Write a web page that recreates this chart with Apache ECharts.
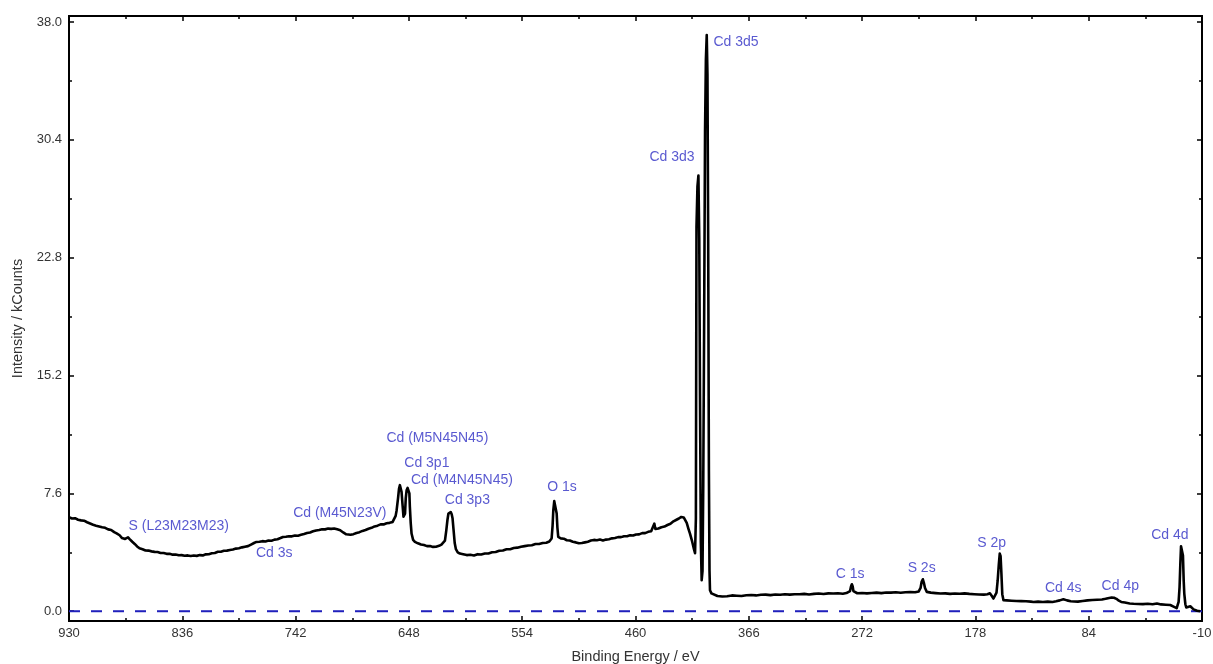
<!DOCTYPE html>
<html>
<head>
<meta charset="utf-8">
<title>XPS survey spectrum</title>
<script src="https://cdn.jsdelivr.net/npm/echarts@6/dist/echarts.min.js"></script>
<style>
  html, body { margin: 0; padding: 0; background: #ffffff; }
  #chart { width: 1213px; height: 664px; }
</style>
</head>
<body>
<div id="chart"></div>
<script>
// Survey spectrum, [binding energy (eV), intensity (kCounts)] pairs, split by region.
const bgHighEnergy = [
  [930, 6.06], [927.5, 5.98], [925, 6.0], [922.5, 5.9], [920, 5.86], [917.5, 5.84], [915, 5.74],
  [912.5, 5.66], [910, 5.58], [907.5, 5.52], [905, 5.47], [902.5, 5.42], [900, 5.38], [897.5, 5.28],
  [895, 5.24], [892.5, 5.1], [890.5, 5.02], [888, 4.9], [886, 4.72], [885, 4.62], [883.5, 4.66],
  [882, 4.74], [881, 4.77], [879.5, 4.64], [877.5, 4.48], [875.5, 4.34], [873.5, 4.18], [871.5, 4.06],
  [869, 4.0], [866.5, 3.92], [864, 3.91], [861.5, 3.86], [859, 3.83], [856.5, 3.82], [854, 3.76],
  [851.5, 3.76], [849, 3.7], [846.5, 3.7], [844, 3.65], [841.5, 3.66], [839, 3.61], [836.5, 3.62],
  [834, 3.58], [831.5, 3.6], [829, 3.56], [826.5, 3.59], [824, 3.57], [821.5, 3.62], [819, 3.6],
  [816.5, 3.67], [814, 3.68], [811.5, 3.74], [809, 3.76], [806.5, 3.84], [804, 3.84], [801.5, 3.9],
  [799, 3.91], [796.5, 3.95], [794, 3.98], [791.5, 4.04], [789, 4.06], [786.5, 4.12], [784, 4.16],
  [781.5, 4.2], [779, 4.3], [776.5, 4.4], [774.5, 4.47], [772, 4.48], [769.5, 4.52], [767, 4.5],
  [764.5, 4.56], [762, 4.55], [759.5, 4.62], [757, 4.64], [754.5, 4.72], [752.5, 4.79], [750, 4.8],
  [747.5, 4.84], [745, 4.83], [742.5, 4.88], [740, 4.87], [737.5, 4.93], [735, 4.98], [732.5, 5.05],
  [730, 5.08], [727.5, 5.16], [725, 5.21], [722.5, 5.24], [720, 5.29], [717.5, 5.28], [715, 5.33],
  [712.5, 5.31], [710, 5.34], [707.5, 5.28], [705, 5.22], [702.5, 5.08], [700, 4.96], [698.5, 4.9],
  [696.5, 4.93], [694, 4.97], [691.5, 5.05], [689, 5.1], [686.5, 5.18], [684, 5.24], [681.5, 5.32],
  [679, 5.38], [676.5, 5.47], [674, 5.52], [671.5, 5.6], [669, 5.6], [666.5, 5.67], [664, 5.7],
  [661.5, 5.76], [660, 5.8]
];

// Cd MNN Auger lines, Cd 3p doublet, O 1s and the slope up to Cd 3d
const augerAnd3p = [
  [659, 6.15], [658.2, 6.5], [657, 7.3], [656.2, 7.9], [655.5, 8.13], [654.8, 8.05], [654.1, 7.7],
  [653.2, 6.8], [652.5, 6.1], [651.9, 5.98], [651.2, 6.3], [650.6, 7.3], [649.9, 7.8], [649.1, 7.95],
  [648.3, 7.92], [647.6, 7.6], [647.2, 6.73], [646.5, 5.7], [645.8, 5.01], [644.5, 4.6], [643, 4.47],
  [640.5, 4.38], [638, 4.3], [635.5, 4.27], [633, 4.2], [630.5, 4.2], [628, 4.15], [625.5, 4.16],
  [623, 4.22], [621, 4.3], [619.5, 4.4], [618.1, 4.55], [617, 5.2], [616, 5.9], [615.2, 6.3],
  [614.2, 6.41], [613.3, 6.4], [612.5, 6.25], [611.8, 6.0], [611, 5.3], [610, 4.4], [609, 4.0],
  [607.5, 3.8], [605.7, 3.72], [603, 3.68], [600, 3.62], [597, 3.64], [594, 3.6], [591, 3.68],
  [588, 3.66], [585, 3.72], [582, 3.72], [579, 3.8], [576, 3.82], [573, 3.9], [570, 3.92],
  [567, 4.0], [564, 4.0], [561, 4.08], [558, 4.1], [555, 4.16], [552, 4.2], [549, 4.24],
  [546, 4.26], [543, 4.34], [540, 4.34], [537, 4.4], [534, 4.42], [531.5, 4.5], [529.6, 4.69],
  [528.8, 5.5], [528.2, 6.5], [527.4, 7.1], [526.8, 7.16], [526.1, 7.0], [525.4, 6.3], [524.8, 5.4],
  [524.1, 4.79], [522, 4.7], [519.5, 4.68], [517, 4.58], [514.5, 4.56], [512, 4.48], [509.5, 4.44],
  [507, 4.38], [504.5, 4.4], [502, 4.44], [499.5, 4.48], [497, 4.56], [494.5, 4.6], [492, 4.58],
  [489.5, 4.62], [487, 4.56], [484.5, 4.62], [482, 4.64], [479.5, 4.7], [477, 4.72], [474.5, 4.78],
  [472, 4.78], [469.5, 4.84], [467, 4.84], [464.5, 4.9], [462, 4.88], [459.5, 4.95], [457, 4.96],
  [454.5, 5.04], [452, 5.04], [449.5, 5.12], [447, 5.16], [445.5, 5.23], [444.4, 5.65], [443.5, 5.3],
  [441, 5.34], [438.5, 5.42], [436, 5.46], [433.5, 5.56], [431, 5.64], [428.5, 5.8], [426, 5.9],
  [424, 5.98], [422, 6.08], [420, 6.05], [418.9, 6.0], [417.5, 5.7], [416, 5.3], [414.8, 5.0],
  [413, 4.5], [411.5, 4.0], [410.6, 3.74]
];

// Cd 3d3/2 and Cd 3d5/2 main lines
const cd3d = [
  [409.9, 6.0], [409.4, 24.8], [408.6, 27.4], [407.8, 28.1], [407.1, 24.0], [406.5, 14.0],
  [405.8, 4.5], [405.1, 2.0], [404.4, 2.6], [403.8, 8.0], [403.1, 18.0], [402.3, 31.0],
  [401.6, 35.6], [400.9, 37.16], [400.3, 34.6], [399.7, 24.0], [399.1, 9.0], [398.6, 2.6],
  [398.2, 1.35], [397.0, 1.15]
];

// Low binding-energy side: C 1s, S 2s, S 2p, Cd 4s, Cd 4p, Cd 4d
const lowEnergy = [
  [395.4, 1.03], [392, 0.98], [388, 0.95], [384, 0.97], [380, 1.02], [376, 1.0], [372, 0.98],
  [368, 1.03], [364, 1.05], [360, 1.02], [356, 1.06], [352, 1.07], [348, 1.04], [344, 1.08],
  [340, 1.06], [336, 1.1], [332, 1.07], [328, 1.1], [324, 1.1], [320, 1.12], [316, 1.08],
  [312, 1.12], [308, 1.14], [304, 1.11], [300, 1.15], [296, 1.14], [292, 1.16], [288, 1.13],
  [285, 1.17], [283.4, 1.2], [282, 1.3], [281.2, 1.6], [280.5, 1.74], [279.8, 1.6], [279.2, 1.3],
  [278.6, 1.18], [276, 1.16], [272, 1.18], [268, 1.15], [264, 1.18], [260, 1.2], [256, 1.17],
  [252, 1.21], [248, 1.2], [244, 1.22], [240, 1.19], [236, 1.22], [232, 1.24], [228, 1.22],
  [225, 1.28], [223.5, 1.5], [222.6, 1.9], [221.6, 2.06], [220.8, 1.85], [219.8, 1.5], [218.3, 1.25],
  [215, 1.2], [211, 1.17], [207, 1.14], [203, 1.15], [199, 1.12], [195, 1.14], [191, 1.13],
  [187, 1.15], [183, 1.12], [179, 1.1], [175, 1.08], [171, 1.07], [168, 1.1], [166, 1.16],
  [164.5, 1.0], [163, 0.82], [161.6, 0.9], [160.5, 1.2], [159.5, 2.0], [158.6, 3.0], [157.8, 3.72],
  [157.1, 3.55], [156.4, 2.4], [155.7, 1.1], [154.7, 0.71], [152, 0.7], [148, 0.68], [144, 0.66],
  [140, 0.65], [136, 0.64], [132, 0.62], [129.8, 0.6], [126, 0.62], [122, 0.6], [118, 0.62],
  [114, 0.6], [111, 0.64], [108, 0.7], [105, 0.77], [102, 0.7], [99, 0.64], [96, 0.63],
  [93, 0.62], [89, 0.66], [85, 0.7], [81, 0.72], [77, 0.74], [73, 0.76], [70, 0.8], [68, 0.84],
  [65, 0.88], [63, 0.87], [61, 0.8], [59, 0.68], [57, 0.6], [54, 0.56], [50, 0.5], [46.8, 0.48],
  [43, 0.47], [39, 0.46], [35, 0.48], [31, 0.45], [27.4, 0.5], [24, 0.44], [20, 0.42], [16.3, 0.4],
  [13.6, 0.3], [12.2, 0.26], [11, 0.2], [10.3, 0.17], [9.4, 0.6], [8.6, 1.57], [8.0, 3.0],
  [7.4, 4.19], [6.6, 4.1], [5.8, 3.6], [5.2, 2.0], [4.7, 1.14], [3.8, 0.45], [3.05, 0.24],
  [1.5, 0.22], [-0.3, 0.32], [-1.0, 0.35], [-1.7, 0.2], [-3, 0.12], [-4.5, 0.05], [-5.9, 0.03],
  [-7.5, 0.02], [-8.6, 0.0]
];

// Zero-intensity reference line
const zeroLine = [[930, 0], [-10, 0]];

// Peak annotations: name and text anchor [eV, kCounts]
const peakNames = [
  'Cd 3d5', 'Cd 3d3', 'Cd (M5N45N45)', 'Cd 3p1', 'Cd (M4N45N45)', 'Cd 3p3', 'O 1s',
  'Cd (M45N23V)', 'S (L23M23M23)', 'Cd 3s', 'C 1s', 'S 2s', 'S 2p', 'Cd 4s', 'Cd 4p', 'Cd 4d'
];
const peakLabelAt = [
  [376.6, 36.7], [429.7, 29.3], [624.4, 11.16], [633.1, 9.58], [604, 8.48], [599.5, 7.16], [521, 8.0],
  [705.3, 6.32], [838.9, 5.5], [759.7, 3.72], [281.9, 2.39], [222.6, 2.75], [164.5, 4.39],
  [105.1, 1.48], [57.8, 1.63], [16.7, 4.9]
];

// Axis ticks
const yTickValues = [0, 7.6, 15.2, 22.8, 30.4, 38.0];
const yMinorTickValues = [3.8, 11.4, 19.0, 26.6, 34.2];
const xMin = -10, xMax = 930, xStep = 94;
const yMin = -0.63, yMax = 38.39;

const spectrum = bgHighEnergy.concat(augerAnd3p, cd3d, lowEnergy);

const chart = echarts.init(document.getElementById('chart'), null, { renderer: 'canvas' });

const FONT = 'Liberation Sans, Arial, sans-serif';
const frameLine = { show: true, onZero: false, lineStyle: { color: '#000', width: 2 } };
const tickFont = { color: '#333', fontSize: 13, fontFamily: FONT };
const nameFont = { color: '#333', fontSize: 14.5, fontFamily: FONT };

function xAxisDef(pos, withLabels) {
  return {
    type: 'value', position: pos, inverse: true,
    min: xMin, max: xMax, interval: xStep,
    axisLine: frameLine,
    axisTick: { show: true, inside: true, length: 5, lineStyle: { color: '#000', width: 1.5 } },
    minorTick: { show: true, splitNumber: 2, length: 3, lineStyle: { color: '#000', width: 1.5 } },
    axisLabel: Object.assign({ show: withLabels, margin: 6 }, tickFont),
    splitLine: { show: false },
    name: withLabels ? 'Binding Energy / eV' : '',
    nameLocation: 'middle', nameGap: 28,
    nameTextStyle: nameFont
  };
}

function yAxisDef(pos, values, len, withLabels) {
  return {
    type: 'value', position: pos,
    min: yMin, max: yMax,
    axisLine: frameLine,
    axisTick: { show: true, inside: true, length: len, customValues: values,
      lineStyle: { color: '#000', width: 1.5 } },
    axisLabel: Object.assign({
      show: withLabels, margin: 7, customValues: values,
      formatter: v => Number(v).toFixed(1)
    }, tickFont),
    splitLine: { show: false },
    name: withLabels ? 'Intensity / kCounts' : '',
    nameLocation: 'middle', nameGap: 44,
    nameTextStyle: nameFont
  };
}

chart.setOption({
  animation: false,
  backgroundColor: '#ffffff',
  grid: { left: 69, right: 11, top: 16, bottom: 43, containLabel: false, outerBoundsMode: 'none' },
  xAxis: [xAxisDef('bottom', true), xAxisDef('top', false)],
  yAxis: [
    yAxisDef('left', yTickValues, 5, true),
    yAxisDef('right', yTickValues, 5, false),
    yAxisDef('left', yMinorTickValues, 3, false),
    yAxisDef('right', yMinorTickValues, 3, false)
  ],
  series: [
    {
      name: 'zero', type: 'line', data: zeroLine, xAxisIndex: 0, yAxisIndex: 0,
      showSymbol: false, silent: true,
      lineStyle: { color: '#2020bc', width: 2, type: [11, 11] }
    },
    {
      name: 'spectrum', type: 'line', data: spectrum, xAxisIndex: 0, yAxisIndex: 0,
      showSymbol: false, silent: true, z: 3,
      lineStyle: { color: '#000', width: 2.6, join: 'round' }
    },
    {
      name: 'labels', type: 'scatter', xAxisIndex: 0, yAxisIndex: 0, symbolSize: 0, silent: true,
      data: peakNames.map((n, i) => ({ name: n, value: peakLabelAt[i] })),
      label: {
        show: true, position: 'inside', formatter: p => p.name,
        color: '#2f2fc4', fontSize: 14, fontFamily: FONT
      },
      z: 4
    }
  ]
});
</script>
</body>
</html>
